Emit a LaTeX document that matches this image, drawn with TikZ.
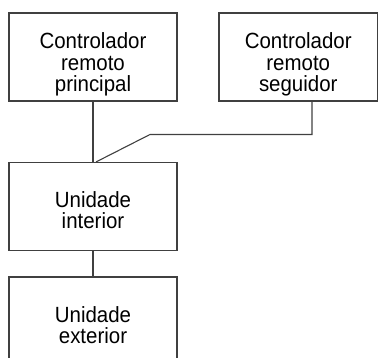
\documentclass[tikz,border=0pt]{standalone}
\usepackage{fontspec}
\setmainfont{Liberation Sans}
\newfontfamily\boxfont[FakeStretch=0.93]{Liberation Sans}
\definecolor{ln}{HTML}{404040}
\begin{document}
\begin{tikzpicture}[x=1pt,y=-1pt,
  unit/.style={draw=ln,line width=1.1pt,inner sep=0pt},
  txt/.style={inner sep=0pt,align=center,
    font=\boxfont\fontsize{22}{21.5}\selectfont,text=black},
  wire/.style={draw=ln,line width=1.1pt}]
\useasboundingbox (0,0) rectangle (378,358);
\node[unit,minimum width=168pt,minimum height=88pt,
  label={[txt,yshift=-7.5pt]center:{Controlador\\remoto\\principal}}] (p) at (93,57) {};
\node[unit,minimum width=158.5pt,minimum height=88pt,
  label={[txt,yshift=-7.5pt]center:{Controlador\\remoto\\seguidor}}] (s) at (298.25,57) {};
\node[unit,minimum width=168pt,minimum height=88pt,
  label={[txt,yshift=-3.5pt]center:{Unidade\\interior}}] (i) at (93,206.5) {};
\node[unit,minimum width=168pt,minimum height=82.5pt,
  label={[txt,yshift=-7pt]center:{Unidade\\exterior}}] (e) at (93,318.25) {};
\coordinate (k1) at (312,134.5);
\coordinate (k2) at (150,134.5);
\draw[wire] (p.south) -- (i.north);
\draw[wire] (s.south -| k1) -- (k1) -- (k2) -- ([xshift=3pt]i.north);
\draw[wire] (i.south) -- (e.north);
\end{tikzpicture}
\end{document}
